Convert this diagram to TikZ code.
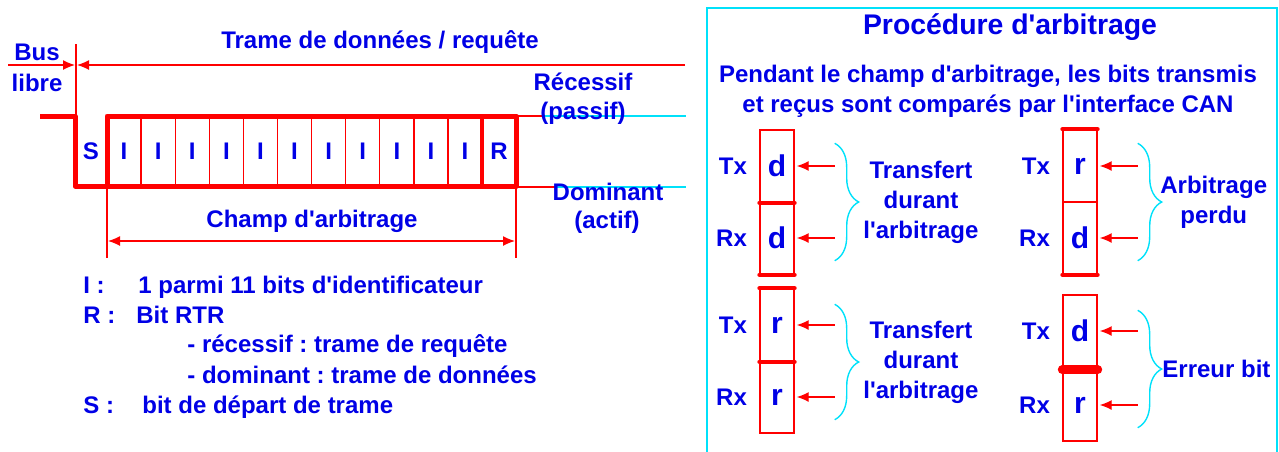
\documentclass[tikz,border=0pt]{standalone}
\usepackage{fontspec}
\setmainfont{Liberation Sans}[Ligatures=TeXOff]
\usetikzlibrary{positioning,arrows.meta,decorations.pathreplacing}
\frenchspacing

\definecolor{canblue}{RGB}{0,0,230}
\definecolor{canred}{RGB}{255,0,0}
\definecolor{cancyan}{RGB}{0,225,250}

\tikzset{
  lbl/.style={text=canblue, font=\bfseries\fontsize{12}{15}\selectfont, inner sep=0pt},
  redline/.style={canred, line width=0.65pt},
  sig/.style={canred, line width=2.5pt, line join=round},
  dimarrow/.style={redline, -{Latex[length=6pt,width=5pt]}},
  inarrow/.style={redline, {Latex[length=6pt,width=5pt]}-, shorten <=1pt},
  bitbox/.style={draw=canred, line width=0.7pt, minimum width=17pt, minimum height=36pt,
    inner sep=0pt, text=canblue, font=\bfseries\fontsize{15}{18}\selectfont},
  levelbar/.style={canred, line width=2pt, line cap=round},
  cbrace/.style={cancyan, line width=0.7pt, decorate, decoration={brace, amplitude=12pt}},
}

\begin{document}
\begin{tikzpicture}[x=0.5pt, y=-0.5pt]
	\useasboundingbox (0,0) rectangle (1279,451);

	% trame : bus libre, bit S, 11 bits I et bit R
	\node[lbl] (bus) at (37,52) {Bus};
	\node[lbl] (libre) at (37,83) {libre};
	\node[lbl] (trame) at (380,42) {Trame de données / requête};
	\draw[redline] (76,44) -- (76,116);
	\draw[dimarrow] (8,65) -- (75,65);
	\draw[dimarrow] (685,65) -- (77,65);

	\draw[sig] (40,116) -- (75,116) -- (75,186) -- (516,186);
	\draw[sig] (107,116) rectangle (516,186);
	\foreach \k in {1,...,10}
	{\draw[redline] ({107+34.1*\k},116) -- ({107+34.1*\k},186);}
	\draw[canred, line width=2pt] (482,116) -- (482,186);
	\node[lbl] (bitS) at (91,151) {S};
	\foreach \i in {1,...,11}
	{\node[lbl] (id\i) at ({107+34.1*(\i-0.5)},151) {I};}
	\node[lbl] (bitR) at (499,151) {R};

	\draw[redline] (516,116) -- (545,116);
	\draw[cancyan, line width=0.6pt] (545,116) -- (686,116);
	\draw[redline] (516,187) -- (555,187);
	\draw[cancyan, line width=0.6pt] (555,187) -- (686,187);
	\node[lbl] (rec) at (583,82) {Récessif};
	\node[lbl] (pas) at (583,113) {(passif)};
	\node[lbl] (dom) at (608,192) {Dominant};
	\node[lbl] (act) at (607,222) {(actif)};

	\draw[redline] (107,186) -- (107,258);
	\draw[redline] (516,186) -- (516,258);
	\draw[redline, {Latex[length=6pt,width=5pt]}-{Latex[length=6pt,width=5pt]}] (108,241) -- (515,241);
	\node[lbl] (champ) at (312,221) {Champ d'arbitrage};

	% legende
	\node[lbl, anchor=base west] (legI) at (83,293) {I :};
	\node[lbl, anchor=base west] (txtI) at (138,293) {1 parmi 11 bits d'identificateur};
	\node[lbl, anchor=base west] (legR) at (83,323) {R :};
	\node[lbl, anchor=base west] (txtR) at (136,323) {Bit RTR};
	\node[lbl, anchor=base west] (rtr1) at (187,352) {- récessif : trame de requête};
	\node[lbl, anchor=base west] (rtr2) at (187,383) {- dominant : trame de données};
	\node[lbl, anchor=base west] (legS) at (83,413) {S :};
	\node[lbl, anchor=base west] (txtS) at (142,413) {bit de départ de trame};

	% procedure d'arbitrage
	\draw[cancyan, line width=1pt] (707,8) rectangle (1277,458);
	\node[lbl, font=\bfseries\fontsize{14.2}{17}\selectfont] (titre) at (1010,27) {Procédure d'arbitrage};
	\node[lbl, align=center] (intro) at (988,91) {Pendant le champ d'arbitrage, les bits transmis\\et reçus sont comparés par l'interface CAN};

	\node[bitbox] (tx1) at (777,166) {d};
	\node[bitbox] (rx1) at (777,238) {d};
	\node[bitbox] (tx2) at (1080,166) {r};
	\node[bitbox] (rx2) at (1080,238) {d};
	\node[bitbox] (tx3) at (777,325) {r};
	\node[bitbox] (rx3) at (777,397) {r};
	\node[bitbox] (tx4) at (1080,331) {d};
	\node[bitbox] (rx4) at (1080,405) {r};

	\foreach \b in {1,2,3,4}
	{
	\node[lbl, left=6pt of tx\b] (ltx\b) {Tx};
	\node[lbl, left=6pt of rx\b] (lrx\b) {Rx};
	\draw[inarrow] (tx\b.east) -- ++(40,0);
	\draw[inarrow] (rx\b.east) -- ++(40,0);
	}

	\draw[levelbar] (tx1.south west) -- (tx1.south east);
	\draw[levelbar] (rx1.south west) -- (rx1.south east);
	\draw[levelbar] (tx2.north west) -- (tx2.north east);
	\draw[levelbar] (rx2.south west) -- (rx2.south east);
	\draw[levelbar] (tx3.north west) -- (tx3.north east);
	\draw[levelbar] (tx3.south west) -- (tx3.south east);
	\draw[levelbar, line width=4.5pt] ([yshift=-1pt]tx4.south west) -- ([yshift=-1pt]tx4.south east);

	\draw[cbrace] ([xshift=20pt,yshift=-7pt]tx1.north east) -- ([xshift=20pt,yshift=7pt]rx1.south east)
		node[lbl, midway, right=14pt, align=center] (res1) {Transfert\\durant\\l'arbitrage};
	\draw[cbrace] ([xshift=20pt,yshift=-7pt]tx2.north east) -- ([xshift=20pt,yshift=7pt]rx2.south east)
		node[lbl, midway, right=11pt, align=center] (res2) {Arbitrage\\perdu};
	\draw[cbrace] ([xshift=20pt,yshift=-8pt]tx3.north east) -- ([xshift=20pt,yshift=7pt]rx3.south east)
		node[lbl, midway, right=14pt, align=center] (res3) {Transfert\\durant\\l'arbitrage};
	\draw[cbrace] ([xshift=20pt,yshift=-8pt]tx4.north east) -- ([xshift=20pt,yshift=7pt]rx4.south east)
		node[lbl, midway, right=12pt] (res4) {Erreur bit};
\end{tikzpicture}
\end{document}
